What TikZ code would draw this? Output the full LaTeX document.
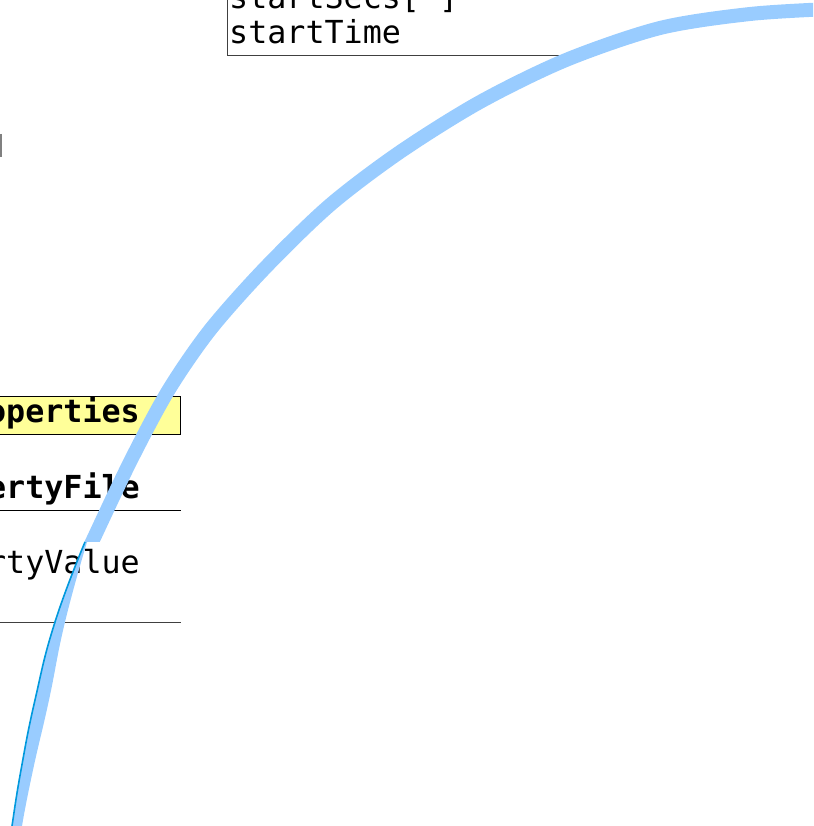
\documentclass[tikz,border=0pt]{standalone}
\usepackage{fontspec}
\setmonofont{DejaVu Sans Mono}
\definecolor{hiblue}{HTML}{99CCFF}
\definecolor{lineblue}{HTML}{0099DD}
\definecolor{noteyellow}{HTML}{FFFF99}
\tikzset{
  monotext/.style={font=\ttfamily\fontsize{31.7}{35}\selectfont, inner sep=0pt, text=black},
  boldtext/.style={font=\ttfamily\bfseries\fontsize{31.7}{35}\selectfont, inner sep=0pt, text=black},
  boxline/.style={draw=black!75, line width=1pt},
}
\begin{document}
\begin{tikzpicture}[x=1pt, y=-1pt]
\useasboundingbox (0,0) rectangle (813,826);
\clip (0,0) rectangle (813,826);

% top class box (partial)
\coordinate (tbTL) at (227,-5);
\coordinate (tbBL) at (227,56);
\coordinate (tbBR) at (566,56);
\draw[boxline] (tbTL) -- (tbBL) -- (tbBR);
\node[monotext, anchor=base west] (secs) at (229,9) {startSecs[ ]};
\node[monotext, anchor=base west] (time) at (229,44) {startTime};

% small grey mark on the left
\coordinate (gm1) at (1,134);
\coordinate (gm2) at (1,157);
\draw[black!50, line width=2pt] (gm1) -- (gm2);

% left class box (partial)
\node[draw=black, line width=1pt, fill=noteyellow, minimum width=185pt, minimum height=38pt, inner sep=0pt, anchor=north east] (hdr) at (180.5,395.5) {};
\node[boldtext, anchor=base east] (props) at (140,422) {operties};
\node[boldtext, anchor=base east] (pfile) at (140,498.5) {ertyFile};
\node[monotext, anchor=base east] (pval) at (140,573.5) {rtyValue};
\coordinate (l1a) at (-2,510.5);
\coordinate (l1b) at (180.5,510.5);
\coordinate (l2a) at (-2,622);
\coordinate (l2b) at (180.5,622);
\draw[black, line width=1pt] (l1a) -- (l1b);
\draw[black!75, line width=1pt] (l2a) -- (l2b);

% thick highlighted curve (upper part)
\begin{scope}
\clip (0,-10) rectangle (830,541);
\draw[hiblue, line width=14pt, line join=round] plot[smooth] coordinates
 {(830,9) (750,14) (660,28) (566,60) (480,102) (400,152) (330,205) (265,268) (210,330) (168,391) (130,462) (92.5,541) (84,560)};
\end{scope}

% lower wedge part
\fill[hiblue] plot[smooth, tension=0.8] coordinates {(85,542) (55,622) (35,700) (21,770) (12,826) (11,835)}
  -- plot[smooth, tension=0.8] coordinates {(22,835) (22,826) (33,770) (49,700) (65,622) (87,542)} -- cycle;
\draw[lineblue, line width=1.6pt] plot[smooth, tension=0.8] coordinates {(85,542) (55,622) (35,700) (21,770) (12,826) (11,835)};
\end{tikzpicture}
\end{document}
